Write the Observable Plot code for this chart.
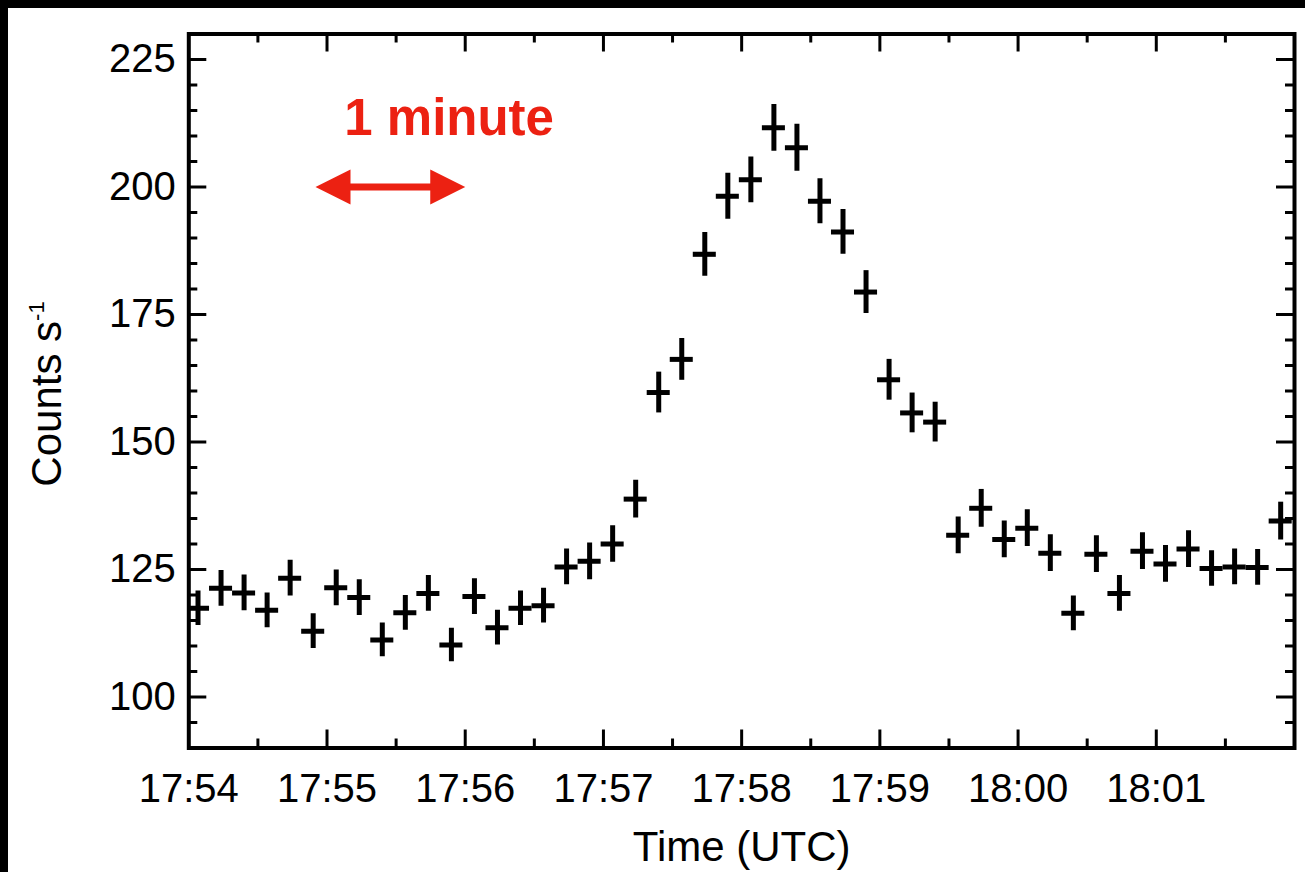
<!DOCTYPE html>
<html>
<head>
<meta charset="utf-8">
<script src="https://cdn.jsdelivr.net/npm/d3@7"></script>
<script src="https://cdn.jsdelivr.net/npm/@observablehq/plot@0.6"></script>
<style>
  html, body { margin: 0; padding: 0; background: #000; width: 1305px; height: 872px; overflow: hidden; }
  #chart { position: absolute; left: 8px; top: 8px; width: 1297px; height: 864px; background: #fff; }
</style>
</head>
<body>
<div id="chart"></div>
<script>
// ---- data (10 s bins) ----
const times = [
  "17:54:04","17:54:14","17:54:24","17:54:34","17:54:44","17:54:54",
  "17:55:04","17:55:14","17:55:24","17:55:34","17:55:44","17:55:54",
  "17:56:04","17:56:14","17:56:24","17:56:34","17:56:44","17:56:54",
  "17:57:04","17:57:14","17:57:24","17:57:34","17:57:44","17:57:54",
  "17:58:04","17:58:14","17:58:24","17:58:34","17:58:44","17:58:54",
  "17:59:04","17:59:14","17:59:24","17:59:34","17:59:44","17:59:54",
  "18:00:04","18:00:14","18:00:24","18:00:34","18:00:44","18:00:54",
  "18:01:04","18:01:14","18:01:24","18:01:34","18:01:44","18:01:54"
];
const counts = [
  117.4, 121.3, 120.4, 117.0, 123.3, 112.9,
  121.4, 119.5, 111.2, 116.5, 120.3, 110.2,
  119.7, 113.6, 117.4, 117.9, 125.5, 126.6,
  130.0, 138.8, 159.7, 166.2, 186.8, 198.2,
  201.4, 211.6, 207.7, 197.2, 191.2, 179.4,
  162.2, 155.7, 153.9, 131.7, 137.0, 130.9,
  133.1, 128.2, 116.4, 128.0, 120.3, 128.6,
  126.1, 129.0, 125.2, 125.5, 125.4, 134.5
];
const errors = [
  3.4, 3.5, 3.5, 3.4, 3.5, 3.4,
  3.5, 3.5, 3.3, 3.4, 3.5, 3.3,
  3.5, 3.4, 3.4, 3.4, 3.5, 3.6,
  3.6, 3.7, 4.0, 4.1, 4.3, 4.5,
  4.5, 4.6, 4.6, 4.4, 4.4, 4.2,
  4.0, 3.9, 3.9, 3.6, 3.7, 3.6,
  3.6, 3.6, 3.4, 3.6, 3.5, 3.6,
  3.6, 3.6, 3.5, 3.5, 3.5, 3.7
];
const binSeconds = 10;

// ---- axes ----
const xDomain = ["17:54", "18:02"];
const xTickLabels = ["17:54","17:55","17:56","17:57","17:58","17:59","18:00","18:01"];
const xMinorLabels = ["17:54:30","17:55:30","17:56:30","17:57:30","17:58:30","17:59:30","18:00:30","18:01:30"];
const yDomain = [90, 230];
const yTickLabels = [100, 125, 150, 175, 200, 225];

// ---- annotation ----
const annotText = "1 minute";
const annotTextPos = {t: "17:55:53", v: 210.1};
const annotArrow = {t1: "17:54:55", t2: "17:56:00", v: 200};

const parseHMS = d3.utcParse("%H:%M:%S");
const parseHM = d3.utcParse("%H:%M");
const fmt = d3.utcFormat("%H:%M");

const data = times.map((t, i) => ({t: parseHMS(t), v: counts[i], e: errors[i]}));
const half = binSeconds * 1000 / 2;

const xMajor = xTickLabels.map(parseHM);
const xInnerMajor = xMajor.filter(d => +d !== +parseHM(xDomain[0]));
const xMinor = xMinorLabels.map(parseHMS);
const yMinor = d3.range(yDomain[0] + 5, yDomain[1], 5).filter(v => v % 25 !== 0);

const W = 1297, H = 864;
const mL = 180.3, mR = 11, mT = 25.5, mB = 124.5;
const pW = W - mL - mR, pH = H - mT - mB;
const majorLen = 18, minorLen = 9;
const red = "#ec2112";
const font = "'Liberation Sans', Arial, Helvetica, sans-serif";

const headRight = {draw(ctx) { ctx.moveTo(0, 0); ctx.lineTo(-35, -17.5); ctx.lineTo(-35, 17.5); ctx.closePath(); }};
const headLeft = {draw(ctx) { ctx.moveTo(0, 0); ctx.lineTo(35, -17.5); ctx.lineTo(35, 17.5); ctx.closePath(); }};

const chart = Plot.plot({
  width: W, height: H,
  marginLeft: mL, marginRight: mR, marginTop: mT, marginBottom: mB,
  style: {fontFamily: font, background: "#fff", color: "#000", overflow: "visible"},
  x: {type: "utc", domain: xDomain.map(parseHM)},
  y: {domain: yDomain},
  marks: [
    // ticks (inward on all four sides)
    Plot.ruleX(xInnerMajor, {x: d => d, insetTop: pH - majorLen, strokeWidth: 3}),
    Plot.ruleX(xMinor, {x: d => d, insetTop: pH - minorLen, strokeWidth: 3}),
    Plot.ruleX(xInnerMajor, {x: d => d, insetBottom: pH - majorLen, strokeWidth: 3}),
    Plot.ruleX(xMinor, {x: d => d, insetBottom: pH - minorLen, strokeWidth: 3}),
    Plot.ruleY(yTickLabels, {y: d => d, insetRight: pW - majorLen, strokeWidth: 3}),
    Plot.ruleY(yMinor, {y: d => d, insetRight: pW - minorLen, strokeWidth: 3}),
    Plot.ruleY(yTickLabels, {y: d => d, insetLeft: pW - majorLen, strokeWidth: 3}),
    Plot.ruleY(yMinor, {y: d => d, insetLeft: pW - minorLen, strokeWidth: 3}),
    // tick labels
    Plot.axisX({ticks: xMajor, tickFormat: fmt, tickSize: 0, tickPadding: 26, fontSize: 40, label: null}),
    Plot.axisY({ticks: yTickLabels, tickSize: 0, tickPadding: 13, fontSize: 40, label: null}),
    // data crosses
    Plot.ruleY(data, {y: "v", x1: d => new Date(+d.t - half), x2: d => new Date(+d.t + half), strokeWidth: 5, clip: true}),
    Plot.ruleX(data, {x: "t", y1: d => d.v - d.e, y2: d => d.v + d.e, strokeWidth: 5, clip: true}),
    // frame
    Plot.frame({strokeWidth: 4}),
    // axis titles
    Plot.text(["Time (UTC)"], {frameAnchor: "bottom", dy: 112.5, lineAnchor: "bottom", fontSize: 42, text: d => d}),
    Plot.text(["Counts s"], {frameAnchor: "left", dx: -128.3, dy: 3, rotate: -90, lineAnchor: "bottom", textAnchor: "middle", fontSize: 42, text: d => d}),
    // annotation
    Plot.ruleY([annotArrow], {y: "v", x1: d => parseHMS(d.t1), x2: d => parseHMS(d.t2), stroke: red, strokeWidth: 7, insetLeft: 12, insetRight: 12}),
    Plot.dot([annotArrow], {x: d => parseHMS(d.t1), y: "v", symbol: headLeft, fill: red, stroke: null}),
    Plot.dot([annotArrow], {x: d => parseHMS(d.t2), y: "v", symbol: headRight, fill: red, stroke: null}),
    Plot.text([annotTextPos], {x: d => parseHMS(d.t), y: "v", text: () => annotText, fill: red, fontWeight: "bold", fontSize: 51, lineAnchor: "bottom"})
  ]
});

// superscript on the y title
d3.select(chart).selectAll("text").filter(function () { return this.textContent === "Counts s"; })
  .append("tspan").attr("dy", -17).attr("font-size", 22).text("-1");

document.getElementById("chart").appendChild(chart);
</script>
</body>
</html>
